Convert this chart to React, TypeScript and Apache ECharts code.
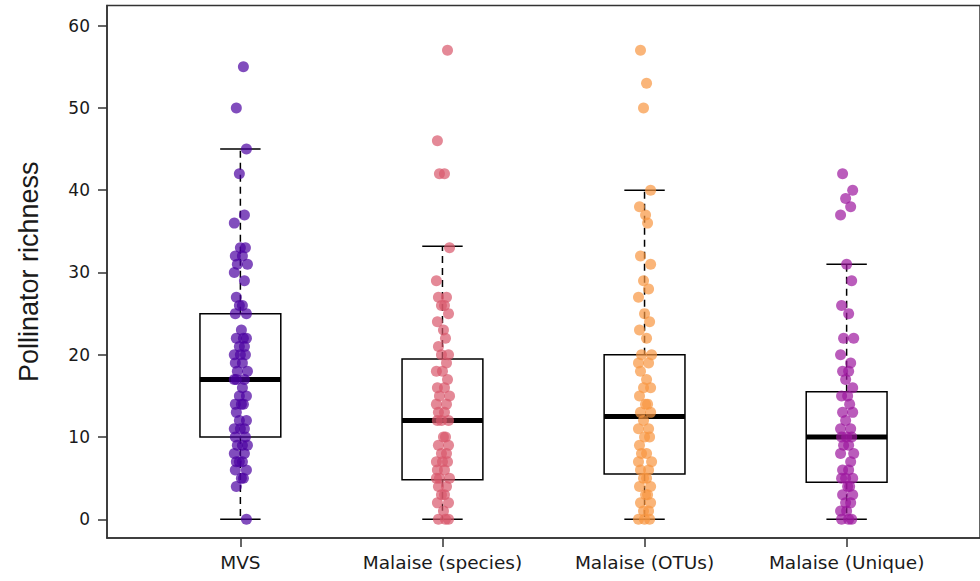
import React, { useEffect, useRef } from "react";
import * as echarts from "echarts";

const CATEGORIES = ["MVS", "Malaise (species)", "Malaise (OTUs)", "Malaise (Unique)"];
const Y_TICKS = [0, 10, 20, 30, 40, 50, 60];
const COLORS = ["#4C02A1", "#D8576B", "#F89540", "#9C179E"];

// richness values per method
const MVS = [55, 50, 45, 42, 37, 36, 33, 33, 32, 32, 31, 31, 30, 29, 27, 26, 26, 25, 25, 23, 22, 22, 22, 21, 21, 20, 20, 20, 19, 19, 18, 18, 17, 17, 17, 16, 15, 15, 14, 14, 14, 13, 12, 12, 11, 11, 11, 10, 10, 9, 9, 9, 8, 8, 7, 7, 7, 6, 6, 5, 5, 4, 0];
const SPECIES = [57, 46, 42, 42, 33, 29, 27, 27, 26, 26, 25, 24, 23, 22, 21, 20, 20, 19, 18, 18, 17, 16, 16, 15, 15, 14, 14, 13, 13, 12, 12, 12, 10, 10, 9, 9, 8, 8, 7, 7, 7, 6, 6, 5, 5, 5, 4, 4, 3, 3, 2, 2, 1, 0, 0, 0];
const OTUS = [57, 53, 50, 40, 38, 37, 36, 32, 31, 29, 28, 27, 25, 24, 23, 22, 20, 20, 19, 19, 18, 17, 16, 16, 15, 14, 14, 13, 13, 12, 11, 11, 10, 10, 9, 8, 8, 7, 7, 6, 6, 5, 5, 4, 4, 3, 3, 2, 2, 1, 1, 0, 0, 0];
const UNIQUE = [42, 40, 39, 38, 37, 31, 29, 26, 25, 22, 22, 20, 19, 18, 18, 17, 16, 15, 15, 14, 13, 13, 12, 11, 11, 10, 10, 10, 9, 9, 8, 8, 7, 6, 6, 5, 5, 5, 4, 4, 3, 3, 2, 2, 1, 1, 0, 0, 0];
const GROUPS = [MVS, SPECIES, OTUS, UNIQUE];

// box statistics
const WHISKER_LOW = [0, 0, 0, 0];
const Q1 = [10, 4.8, 5.5, 4.5];
const MEDIAN = [17, 12, 12.5, 10];
const Q3 = [25, 19.5, 20, 15.5];
const WHISKER_HIGH = [45, 33.2, 40, 31];

// hand-picked horizontal jitter offsets (category units)
const JITTER = [0.015, -0.02, 0.03, -0.005, 0.02, -0.03, 0.0, 0.025, -0.025, 0.01, -0.015, 0.035, -0.03, 0.02, -0.02, 0.01, -0.005, 0.03, -0.025, 0.005];

const FRAME = "#333333";

export default function App() {
  const ref = useRef<HTMLDivElement>(null);
  useEffect(() => {
    if (!ref.current) return;
    const chart = echarts.init(ref.current, null, { renderer: "svg" });

    const boxData = CATEGORIES.map((_, i) => [i + 1, WHISKER_LOW[i], Q1[i], MEDIAN[i], Q3[i], WHISKER_HIGH[i]]);

    const scatterSeries = GROUPS.map((vals, gi) => ({
      type: "scatter",
      name: CATEGORIES[gi],
      z: 5,
      symbol: "circle",
      symbolSize: 11,
      itemStyle: { color: COLORS[gi], opacity: 0.7 },
      data: vals.map((v, k) => [gi + 1 + JITTER[(k + gi * 7) % JITTER.length], v]),
    }));

    chart.setOption({
      animation: false,
      backgroundColor: "#ffffff",
      grid: {
        left: 107,
        top: 5.5,
        width: 881,
        height: 532.5,
        show: true,
        borderColor: FRAME,
        borderWidth: 1.5,
        backgroundColor: "transparent",
      },
      xAxis: {
        type: "value",
        min: 0.34,
        max: 4.66,
        splitLine: { show: false },
        axisLine: { show: true, onZero: false, lineStyle: { color: FRAME, width: 1.5 } },
        axisTick: {
          show: true,
          length: 9,
          customValues: [1, 2, 3, 4],
          lineStyle: { color: FRAME, width: 1.5 },
        },
        axisLabel: {
          customValues: [1, 2, 3, 4],
          formatter: (v: number) => CATEGORIES[Math.round(v) - 1] ?? "",
          margin: 15,
          fontFamily: "DejaVu Sans",
          fontSize: 18.5,
          color: "#1a1a1a",
        },
      },
      yAxis: {
        type: "value",
        min: -2.27,
        max: 62.45,
        splitLine: { show: false },
        name: "Pollinator richness",
        nameLocation: "middle",
        nameGap: 65,
        nameTextStyle: { fontFamily: "Liberation Sans", fontSize: 27, color: "#1a1a1a" },
        axisLine: { show: true, onZero: false, lineStyle: { color: FRAME, width: 1.5 } },
        axisTick: {
          show: true,
          length: 9,
          customValues: Y_TICKS,
          lineStyle: { color: FRAME, width: 1.5 },
        },
        axisLabel: {
          customValues: Y_TICKS,
          margin: 17,
          fontFamily: "DejaVu Sans",
          fontSize: 17,
          color: "#1a1a1a",
        },
      },
      series: [
        {
          type: "custom",
          z: 2,
          encode: { x: 0, y: [1, 2, 3, 4, 5] },
          data: boxData,
          renderItem: (_params: any, api: any) => {
            const x = api.value(0);
            const lo = api.coord([x, api.value(1)]);
            const q1 = api.coord([x, api.value(2)]);
            const md = api.coord([x, api.value(3)]);
            const q3 = api.coord([x, api.value(4)]);
            const hi = api.coord([x, api.value(5)]);
            const halfBox = api.size([0.2, 0])[0];
            const halfStaple = api.size([0.1, 0])[0];
            const cx = lo[0];
            const lineStyle = { stroke: "#000", lineWidth: 1.5, fill: null };
            const dashStyle = { stroke: "#000", lineWidth: 1.5, lineDash: [7, 5], fill: null };
            return {
              type: "group",
              children: [
                { type: "line", shape: { x1: cx, y1: q3[1], x2: cx, y2: hi[1] }, style: dashStyle },
                { type: "line", shape: { x1: cx, y1: q1[1], x2: cx, y2: lo[1] }, style: dashStyle },
                { type: "line", shape: { x1: cx - halfStaple, y1: hi[1], x2: cx + halfStaple, y2: hi[1] }, style: lineStyle },
                { type: "line", shape: { x1: cx - halfStaple, y1: lo[1], x2: cx + halfStaple, y2: lo[1] }, style: lineStyle },
                {
                  type: "rect",
                  shape: { x: cx - halfBox, y: q3[1], width: halfBox * 2, height: q1[1] - q3[1] },
                  style: { stroke: "#000", lineWidth: 1.5, fill: "#ffffff" },
                },
                { type: "line", shape: { x1: cx - halfBox, y1: md[1], x2: cx + halfBox, y2: md[1] }, style: { stroke: "#000", lineWidth: 5 } },
              ],
            };
          },
        },
        ...scatterSeries,
      ],
    });
    return () => chart.dispose();
  }, []);
  return (
    <div
      ref={ref}
      style={{ position: "absolute", left: 0, top: 0, width: 980, height: 581, background: "#fff" }}
    />
  );
}
